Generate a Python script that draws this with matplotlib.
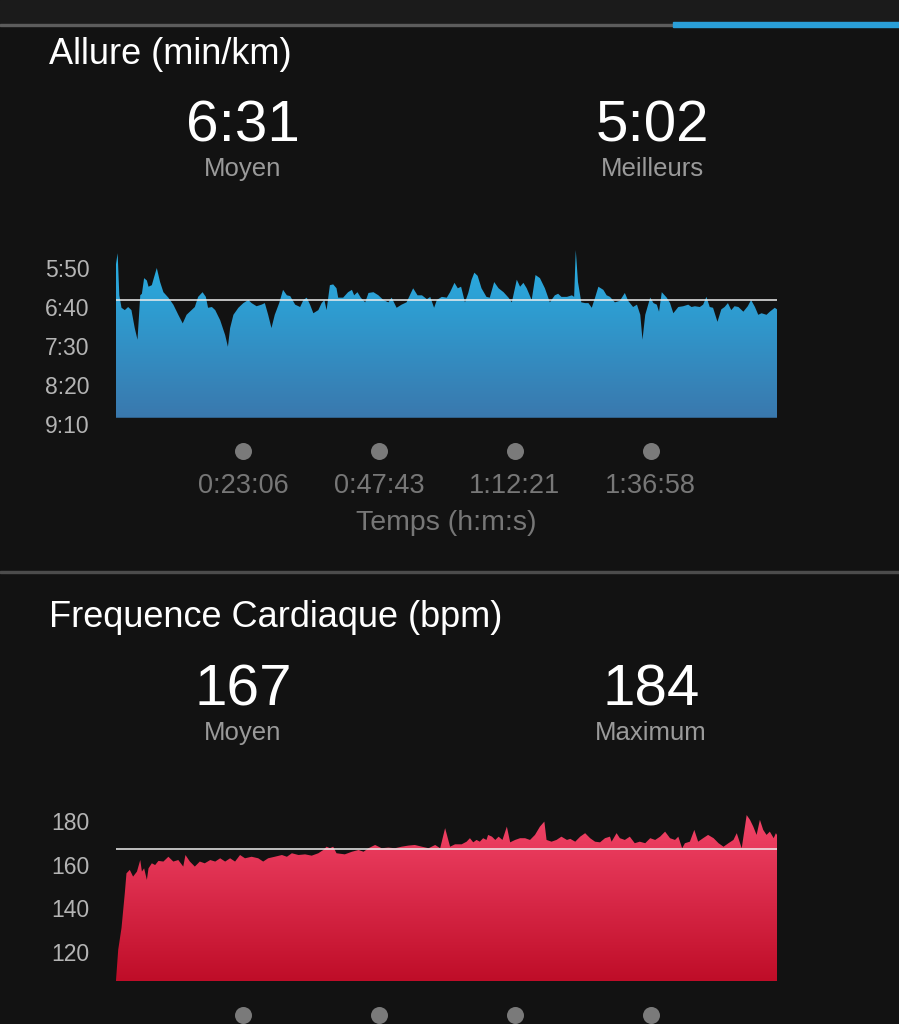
import numpy as np
import matplotlib
matplotlib.use("Agg")
import matplotlib.pyplot as plt
from matplotlib.patches import Rectangle
from matplotlib.colors import to_rgb

plt.rcParams['font.family'] = ['Liberation Sans', 'DejaVu Sans']

# --- donnees lues sur la capture ---
# allure (s/km) en fonction du temps (min)
pace_t = [0.0, 0.3, 0.6, 1.0, 1.6, 2.2, 2.8, 3.4, 3.9, 4.4, 4.7, 5.1, 5.6, 5.9, 6.5, 6.9, 7.4, 8.0,
          8.6, 9.5, 10.4, 11.3, 12.1, 12.8, 13.4, 14.3, 14.9, 15.7, 16.3, 16.7, 17.4, 18.0, 18.9,
          19.8, 20.3, 20.7, 21.3, 22.2, 23.1, 24.0, 24.6, 25.5, 26.4, 27.0, 27.6, 28.2, 28.8, 29.6,
          30.3, 31.0, 31.6, 32.5, 33.4, 34.0, 34.6, 35.2, 35.8, 36.7, 37.3, 37.8, 38.2, 38.8, 39.4,
          40.0, 40.3, 41.2, 42.1, 42.8, 43.2, 43.8, 44.4, 45.2, 45.8, 46.7, 47.6, 48.5, 49.4, 50.0,
          50.9, 51.8, 52.7, 53.9, 54.7, 55.5, 56.4, 57.0, 57.7, 58.2, 59.1, 60.0, 60.6, 61.4, 62.0,
          62.6, 63.3, 63.9, 64.5, 65.0, 65.6, 66.3, 67.2, 67.8, 68.6, 69.4, 70.3, 71.2, 71.8, 72.7,
          73.3, 73.9, 74.5, 75.4, 76.1, 76.9, 77.8, 78.7, 79.6, 80.2, 80.8, 81.8, 82.7, 83.1, 83.4,
          83.8, 84.4, 85.1, 85.7, 86.3, 86.9, 87.5, 88.4, 89.0, 89.6, 90.5, 91.4, 92.3, 92.9, 93.8,
          94.5, 95.1, 95.5, 96.0, 96.9, 97.5, 98.1, 98.5, 99.0, 99.9, 100.5, 101.1, 102.0, 102.9,
          103.8, 104.4, 105.0, 105.9, 106.5, 107.1, 107.7, 108.3, 109.1, 109.8, 110.4, 111.0, 111.6,
          112.2, 112.9, 113.8, 114.6, 115.2, 115.9, 116.5, 117.1, 118.0, 118.6, 119.5, 119.9]
pace_s = [345, 331, 385, 401, 404, 400, 404, 427, 442, 385, 383, 363, 366, 374, 372, 362, 350, 368,
          381, 388, 397, 410, 421, 410, 406, 400, 387, 381, 387, 401, 400, 404, 417,
          436, 451, 427, 410, 401, 395, 391, 395, 399, 397, 395, 410, 427, 410, 395,
          378, 385, 386, 397, 400, 391, 388, 397, 408, 404, 395, 391, 404, 372, 371,
          376, 388, 388, 381, 378, 385, 381, 388, 394, 382, 381, 385, 391, 394, 388,
          401, 397, 394, 376, 385, 385, 390, 387, 401, 391, 387, 388, 381, 369, 376,
          374, 394, 382, 365, 356, 360, 376, 387, 388, 368, 376, 381, 388, 394, 365,
          374, 369, 376, 391, 359, 363, 376, 394, 385, 383, 387, 387, 385, 387, 327,
          368, 394, 395, 395, 401, 388, 374, 378, 385, 387, 394, 392, 382, 392, 400,
          397, 410, 442, 410, 388, 395, 397, 406, 381, 388, 395, 408, 400, 399,
          397, 400, 399, 400, 397, 387, 400, 401, 419, 403, 400, 395, 404,
          399, 400, 406, 399, 391, 400, 410, 408, 410, 406, 401, 403]

# frequence cardiaque (bpm) en fonction du temps (min)
hr_t = [0.0, 0.4, 1.0, 1.6, 1.9, 2.5, 3.1, 3.8, 4.4, 4.7, 5.1, 5.6, 5.9, 6.5, 7.1, 7.7, 8.6, 9.5,
        10.4, 11.3, 12.2, 12.6, 13.4, 14.3, 15.2, 16.1, 17.1, 18.0, 18.9, 19.8, 20.7, 21.6, 22.5,
        23.4, 24.6, 25.8, 26.7, 27.6, 28.8, 30.1, 31.0, 31.9, 33.1, 34.3, 35.5, 36.7, 37.6, 38.2,
        38.8, 39.4, 40.0, 41.5, 42.8, 44.0, 44.9, 45.8, 47.0, 48.2, 49.4, 50.6, 51.8, 53.0, 54.2,
        55.5, 56.7, 57.9, 58.8, 59.7, 60.6, 61.5, 62.7, 63.6, 64.2, 64.8, 65.4, 66.0, 66.6, 67.2,
        67.5, 68.2, 68.8, 69.4, 70.1, 70.9, 71.5, 72.4, 73.3, 74.2, 75.1, 76.0, 76.9, 77.7, 78.1,
        79.0, 79.9, 80.8, 81.8, 82.4, 83.3, 84.2, 85.1, 86.0, 86.9, 87.8, 88.7, 89.6, 89.9, 90.8,
        91.4, 92.3, 93.2, 94.1, 95.0, 96.0, 96.9, 97.8, 98.7, 99.6, 100.5, 101.4, 102.0, 102.7,
        103.2, 104.1, 104.9, 105.6, 106.5, 107.4, 108.4, 109.3, 110.2, 111.1, 112.0, 112.6, 113.5,
        114.4, 115.0, 115.6, 116.2, 116.8, 117.4, 118.0, 118.6, 119.3, 119.7, 119.9]
hr_bpm = [107, 121, 131, 147, 156, 157.6, 154.5, 156.8, 162.1, 156.8, 158.3, 153.0, 158.3, 160.6,
          159.8, 161.7, 161.4, 163.6, 161.4, 162.1, 159.1, 164.4, 161.4, 159.1, 161.4, 160.6, 162.1,
          161.4, 162.9, 161.4, 162.9, 161.4, 164.4, 162.9, 163.6, 162.9, 161.4, 162.9, 163.6, 164.4,
          163.6, 165.2, 164.4, 164.7, 164.1, 165.2, 166.7, 168.2, 167.5, 168.2, 165.2, 164.7, 165.9,
          166.7, 165.9, 167.5, 169.0, 167.5, 167.8, 167.5, 168.2, 168.7, 169.0, 168.2, 167.5, 169.0,
          167.5, 176.7, 168.2, 169.3, 169.3, 170.5, 172.1, 170.2, 171.3, 170.5, 172.1, 171.3, 173.6,
          172.8, 171.3, 172.8, 171.3, 177.4, 170.2, 171.3, 172.1, 172.1, 171.3, 173.6, 177.4, 179.7,
          171.3, 170.5, 171.3, 172.8, 171.3, 171.8, 170.5, 172.8, 174.4, 172.1, 170.5, 170.2, 172.1,
          172.8, 170.5, 174.4, 172.1, 171.3, 172.8, 169.8, 170.5, 169.8, 172.1, 171.3, 172.8, 175.1,
          172.1, 171.3, 172.8, 167.5, 169.8, 170.5, 175.9, 170.5, 172.1, 173.6, 172.1, 169.8, 168.2,
          169.8, 171.3, 174.4, 167.5, 182.7, 180.5, 177.4, 173.6, 180.5, 175.9, 173.6, 175.1, 172.1,
          174.4, 173.6]

pace_avg = 391      # 6:31
pace_best = "5:02"
hr_avg = 167
hr_max = 184
pace_ticks = [350, 400, 450, 500, 550]
hr_ticks = [120, 140, 160, 180]
time_ticks_s = [1386, 2863, 4341, 5818]
t_end = 119.9

W, H = 899, 1024
BG = '#121212'


def fx(x):
    return x / W


def fy(y):
    return 1 - y / H


def mmss(s):
    return "%d:%02d" % (s // 60, s % 60)


def hms(s):
    return "%d:%02d:%02d" % (s // 3600, (s % 3600) // 60, s % 60)


def gradient(c_top, c_bot, n=256):
    a = np.array(to_rgb(c_top))
    b = np.array(to_rgb(c_bot))
    f = np.linspace(0, 1, n)[:, None]
    return (a * (1 - f) + b * f)[:, None, :]


def area(ax, t, v, floor, top, c_top, c_bot):
    poly = ax.fill_between(t, v, floor, color='none', lw=0)
    im = ax.imshow(gradient(c_top, c_bot), extent=(t[0], t[-1], floor, top),
                   aspect='auto', origin='upper', interpolation='bilinear', zorder=1)
    im.set_clip_path(poly.get_paths()[0], transform=ax.transData)


def time_axis(ax, dy_dot, dy_lab, color='#7a7a7a'):
    tt = [s / 60 for s in time_ticks_s]
    trans = ax.get_xaxis_transform()
    ax.scatter(tt, [dy_dot] * len(tt), s=150, color=color, transform=trans,
               clip_on=False, lw=0)
    for x, s in zip(tt, time_ticks_s):
        ax.text(x, dy_lab, hms(s), transform=trans, ha='center', va='baseline',
                fontsize=19.5, color='#777777')


def style(ax):
    ax.set_facecolor(BG)
    for sp in ax.spines.values():
        sp.set_visible(False)
    ax.tick_params(axis='y', length=0, pad=19, labelsize=16.5, labelcolor='#b4b4b4')
    ax.set_xticks([])


fig = plt.figure(figsize=(W / 100, H / 100), dpi=100, facecolor=BG)

# barre du haut + separateurs
fig.patches.append(Rectangle((0, fy(24)), 1, 24 / H, transform=fig.transFigure,
                             color='#1b1b1b', zorder=0))
fig.patches.append(Rectangle((0, fy(26)), 1, 2 / H, transform=fig.transFigure,
                             color='#5c5c5c', zorder=1))
fig.patches.append(Rectangle((fx(673), fy(27)), 1 - fx(673), 5 / H, transform=fig.transFigure,
                             color='#2a9fd8', zorder=2))
fig.patches.append(Rectangle((0, fy(573)), 1, 2 / H, transform=fig.transFigure,
                             color='#4c4c4c', zorder=1))

# --- allure ---
ax1 = fig.add_axes([fx(116), fy(424), fx(777) - fx(116), (424 - 245) / H])
style(ax1)
pace_floor = 542
area(ax1, pace_t, pace_s, pace_floor, 320.5, '#27b2e6', '#3a78ad')
ax1.axhline(pace_avg, color='#eeeeee', lw=1.1, zorder=3)
ax1.set_xlim(0, t_end)
ax1.set_ylim(550, 320.5)
ax1.set_yticks(pace_ticks)
ax1.set_yticklabels([mmss(s) for s in pace_ticks])
time_axis(ax1, -27 / 179, -69 / 179)
ax1.text(0.5, -106 / 179, "Temps (h:m:s)", transform=ax1.transAxes, ha='center',
         va='baseline', fontsize=20.5, color='#777777')

fig.text(fx(49), fy(64), "Allure (min/km)", fontsize=26, color='white', va='baseline')
fig.text(fx(243), fy(142), mmss(pace_avg), fontsize=42, color='white', ha='center', va='baseline')
fig.text(fx(243), fy(176), "Moyen", fontsize=18.5, color='#9a9a9a', ha='center', va='baseline')
fig.text(fx(652), fy(142), pace_best, fontsize=42, color='white', ha='center', va='baseline')
fig.text(fx(652), fy(176), "Meilleurs", fontsize=18.5, color='#9a9a9a', ha='center', va='baseline')

# --- frequence cardiaque ---
ax2 = fig.add_axes([fx(116), fy(981), fx(777) - fx(116), (981 - 805) / H])
style(ax2)
hr_floor = 106.7
area(ax2, hr_t, hr_bpm, hr_floor, 187.3, '#f5486c', '#bf0d28')
ax2.axhline(hr_avg, color='#eeeeee', lw=1.1, zorder=3)
ax2.set_xlim(0, t_end)
ax2.set_ylim(hr_floor, 187.3)
ax2.set_yticks(hr_ticks)
time_axis(ax2, -34 / 176, -80 / 176)

fig.text(fx(49), fy(627), "Frequence Cardiaque (bpm)", fontsize=26, color='white', va='baseline')
fig.text(fx(243), fy(705), str(hr_avg), fontsize=42, color='white', ha='center', va='baseline')
fig.text(fx(243), fy(740), "Moyen", fontsize=18.5, color='#9a9a9a', ha='center', va='baseline')
fig.text(fx(651), fy(705), str(hr_max), fontsize=42, color='white', ha='center', va='baseline')
fig.text(fx(651), fy(740), "Maximum", fontsize=18.5, color='#9a9a9a', ha='center', va='baseline')

fig.savefig("out.png", dpi=100, facecolor=BG)
